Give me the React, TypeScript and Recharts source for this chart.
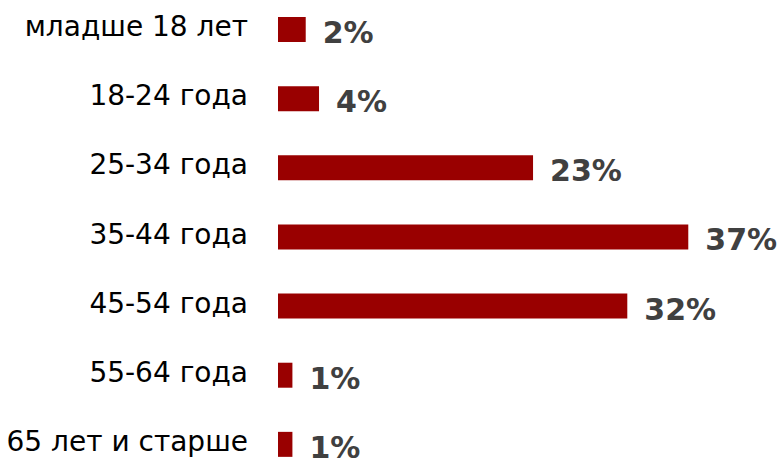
import { BarChart, Bar, XAxis, YAxis, LabelList } from 'recharts'

const categories = ['младше 18 лет', '18-24 года', '25-34 года', '35-44 года', '45-54 года', '55-64 года', '65 лет и старше']
const shares = [2.5, 3.7, 23, 37, 31.5, 1.3, 1.3]
const shareLabels = ['2%', '4%', '23%', '37%', '32%', '1%', '1%']

const data = categories.map((name, i) => ({ name, share: shares[i], label: shareLabels[i] }))

const CategoryTick = (props: any) => {
  const { x, y, payload } = props
  return (
    <text
      x={x}
      y={y - 3}
      textAnchor="end"
      dominantBaseline="central"
      fontFamily="'DejaVu Sans', sans-serif"
      fontSize={28}
      fill="#000"
    >
      {payload.value}
    </text>
  )
}

const ValueLabel = (props: any) => {
  const { x, y, width, height, index } = props
  return (
    <text
      x={x + width + 17}
      y={y + height / 2 + 3}
      dominantBaseline="central"
      fontFamily="'DejaVu Sans', sans-serif"
      fontWeight="bold"
      fontSize={30}
      fill="#404040"
    >
      {shareLabels[index]}
    </text>
  )
}

export default function App() {
  return (
    <div style={{ position: 'fixed', top: 0, left: 0, width: 784, height: 459, overflow: 'hidden', background: '#fff' }}>
      <div style={{ marginTop: -5 }}>
        <BarChart
          width={784}
          height={484}
          data={data}
          layout="vertical"
          margin={{ top: 0, right: 7, bottom: 0, left: 0 }}
        >
          <XAxis type="number" domain={[0, 45]} hide />
          <YAxis
            type="category"
            dataKey="name"
            width={278}
            axisLine={false}
            tickLine={false}
            tickMargin={24}
            tick={<CategoryTick />}
          />
          <Bar dataKey="share" fill="#990000" barSize={25} isAnimationActive={false}>
            <LabelList dataKey="label" content={<ValueLabel />} />
          </Bar>
        </BarChart>
      </div>
    </div>
  )
}
